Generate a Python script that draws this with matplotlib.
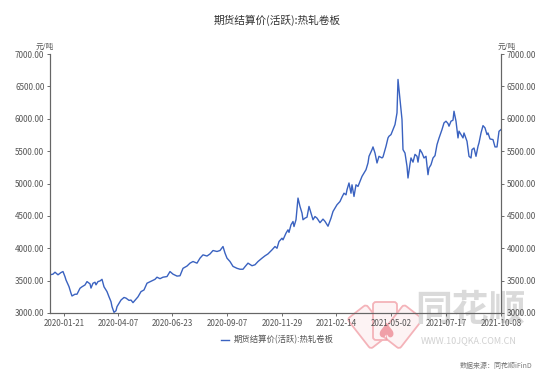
import matplotlib
matplotlib.use("Agg")
import matplotlib.pyplot as plt
from matplotlib.ticker import FormatStrFormatter
from matplotlib.patches import FancyBboxPatch
from matplotlib.transforms import Affine2D, IdentityTransform

plt.rcParams['font.family'] = ['Noto Sans CJK SC', 'DejaVu Sans']

# ---------------------------
# data (trading-day index, settlement price)
# ---------------------------
day = [0, 3, 5, 8, 11, 13, 15, 16, 19, 21, 22, 25, 27, 30, 32, 35, 37, 40, 41, 43,
       45, 46, 48, 50, 52, 54, 56, 57, 59, 61, 62, 64, 66, 67, 69, 71, 74, 76, 79, 81,
       83, 85, 88, 91, 94, 97, 101, 105, 107, 110, 113, 117, 120, 123, 127, 130, 133,
       137, 140, 143, 147, 150, 153, 157, 160, 163, 167, 170, 173, 175, 177, 180, 183,
       187, 190, 193, 195, 198, 202, 205, 208, 212, 215, 218, 222, 225, 227, 229, 232,
       233, 236, 238, 239, 241, 243, 244, 246, 248, 250, 252, 253, 255, 257, 259, 261,
       263, 265, 267, 270, 273, 275, 278, 281, 283, 285, 287, 290, 292, 294, 296, 297,
       299, 301, 302, 304, 306, 308, 310, 312, 314, 316, 318, 319, 322, 323, 325, 327,
       329, 332, 333, 336, 338, 339, 341, 343, 345, 347, 348, 350, 352, 353, 355, 357,
       358, 360, 361, 363, 365, 367, 368, 370, 372, 374, 376, 378, 379, 381, 383, 385,
       387, 389, 392, 394, 396, 398, 399, 401, 403, 404, 406, 408, 409, 411, 413, 414,
       417, 419, 421, 422, 424, 426, 428, 429, 431, 433, 435, 437, 438, 440, 443, 445,
       447, 449, 451]
price = [3590, 3600, 3630, 3590, 3625, 3640, 3560, 3510, 3407, 3305, 3263, 3290, 3290,
         3382, 3405, 3433, 3485, 3450, 3385, 3460, 3475, 3435, 3485, 3495, 3520, 3405,
         3356, 3330, 3250, 3175, 3098, 3010, 3035, 3098, 3150, 3200, 3240, 3230, 3195,
         3200, 3160, 3195, 3250, 3330, 3356, 3460, 3490, 3520, 3553, 3530, 3553, 3563,
         3640, 3600, 3570, 3575, 3690, 3725, 3770, 3795, 3770, 3847, 3898, 3880, 3912,
         3965, 3950, 3965, 4027, 3925, 3847, 3795, 3720, 3690, 3676, 3676, 3715, 3770,
         3730, 3745, 3795, 3847, 3883, 3913, 3975, 4027, 4000, 4104, 4155, 4130, 4233,
         4285, 4245, 4362, 4413, 4335, 4440, 4775, 4645, 4543, 4440, 4465, 4480, 4646,
         4543, 4440, 4490, 4465, 4395, 4450, 4415, 4340, 4465, 4568, 4620, 4672, 4722,
         4790, 4850, 4825, 4903, 5008, 4850, 4980, 4800, 4980, 4955, 5033, 5110, 5162,
         5213, 5317, 5420, 5523, 5565, 5470, 5317, 5420, 5395, 5410, 5575, 5704, 5730,
         5755, 5833, 5910, 6091, 6607, 6297, 5988, 5523, 5470, 5265, 5085, 5300, 5395,
         5330, 5450, 5420, 5330, 5523, 5472, 5394, 5420, 5136, 5239, 5290, 5394, 5430,
         5600, 5700, 5833, 5936, 5962, 5926, 5885, 5962, 5978, 6116, 5962, 5704, 5808,
         5755, 5704, 5780, 5652, 5420, 5394, 5523, 5548, 5420, 5575, 5627, 5780, 5894,
         5859, 5755, 5780, 5688, 5678, 5565, 5565, 5806, 5833]

tick_day = [14, 68, 122, 177, 232, 286, 341, 396, 451]
tick_lab = ['2020-01-21', '2020-04-07', '2020-06-23', '2020-09-07', '2020-11-29',
            '2021-02-14', '2021-05-02', '2021-07-17', '2021-10-08']
yticks = [3000, 3500, 4000, 4500, 5000, 5500, 6000, 6500, 7000]

title = '期货结算价(活跃):热轧卷板'
unit = '元/吨'
source = '数据来源：同花顺iFinD'

# ---------------------------
# figure
# ---------------------------
W, H = 554, 372
fig = plt.figure(figsize=(W/100, H/100), dpi=100)

# watermark (drawn first, behind the axes)
pix = IdentityTransform()
pivot = (385, H - 348)
for ang in (38, 0, -38):
    card = FancyBboxPatch((pivot[0] - 12, pivot[1] + 8), 24, 38,
                          boxstyle='round,pad=0,rounding_size=3',
                          fc='#fdf3f4', ec='#f4b3b9', lw=1.3, zorder=-2,
                          transform=Affine2D().rotate_deg_around(pivot[0], pivot[1], ang) + pix)
    fig.patches.append(card)
fig.text(386/W, 1-333/H, '♠', ha='center', va='center', fontsize=17,
         color='#f0a0a8', family='DejaVu Sans', zorder=-1)
fig.text(470/W, 1-310/H, '同花顺', ha='center', va='center', fontsize=26.5,
         color='#dadada', fontweight='bold', style='italic', zorder=-1)
fig.text(469/W, 1-341/H, 'WWW.10JQKA.COM.CN', ha='center', va='center', fontsize=6.5,
         color='#d0d0d0', zorder=-1)

ax = fig.add_axes([50/W, 1-313/H, 451/W, 259/H])
ax2 = ax.twinx()
ax.patch.set_visible(False)
ax2.patch.set_visible(False)

axis_c = '#666666'
text_c = '#555555'
line_c = '#3a62c0'

ln, = ax.plot(day, price, color=line_c, lw=1.0, label=title)
ax.set_xlim(0, 451)
for a in (ax, ax2):
    a.set_ylim(3000, 7000)
    a.set_yticks(yticks)
    a.yaxis.set_major_formatter(FormatStrFormatter('%.2f'))
    a.tick_params(axis='y', labelsize=5.8, colors=text_c, length=2.5, width=0.6, pad=1.5)
    a.spines['top'].set_visible(False)
    for s in ('left', 'right', 'bottom'):
        a.spines[s].set_color(axis_c)
        a.spines[s].set_linewidth(0.8)
ax.set_xticks(tick_day)
ax.set_xticklabels(tick_lab)
ax.tick_params(axis='x', labelsize=5.8, colors=text_c, length=2.5, width=0.6, pad=1.5)

fig.text(0.5, 1-20/H, title, ha='center', va='center', fontsize=7.7, color='#333333')
fig.text(45/W, 1-47/H, unit, ha='center', va='center', fontsize=5.5, color=text_c)
fig.text(507/W, 1-47/H, unit, ha='center', va='center', fontsize=5.5, color=text_c)

fig.legend(handles=[ln], loc='center', bbox_to_anchor=(0.5, 1-340/H), frameon=False,
           fontsize=6, handlelength=1.0, handletextpad=0.5, labelcolor=text_c)
fig.text(532/W, 1-366/H, source, ha='right', va='center', fontsize=5, color='#777777')

fig.savefig('out.png', dpi=100)
